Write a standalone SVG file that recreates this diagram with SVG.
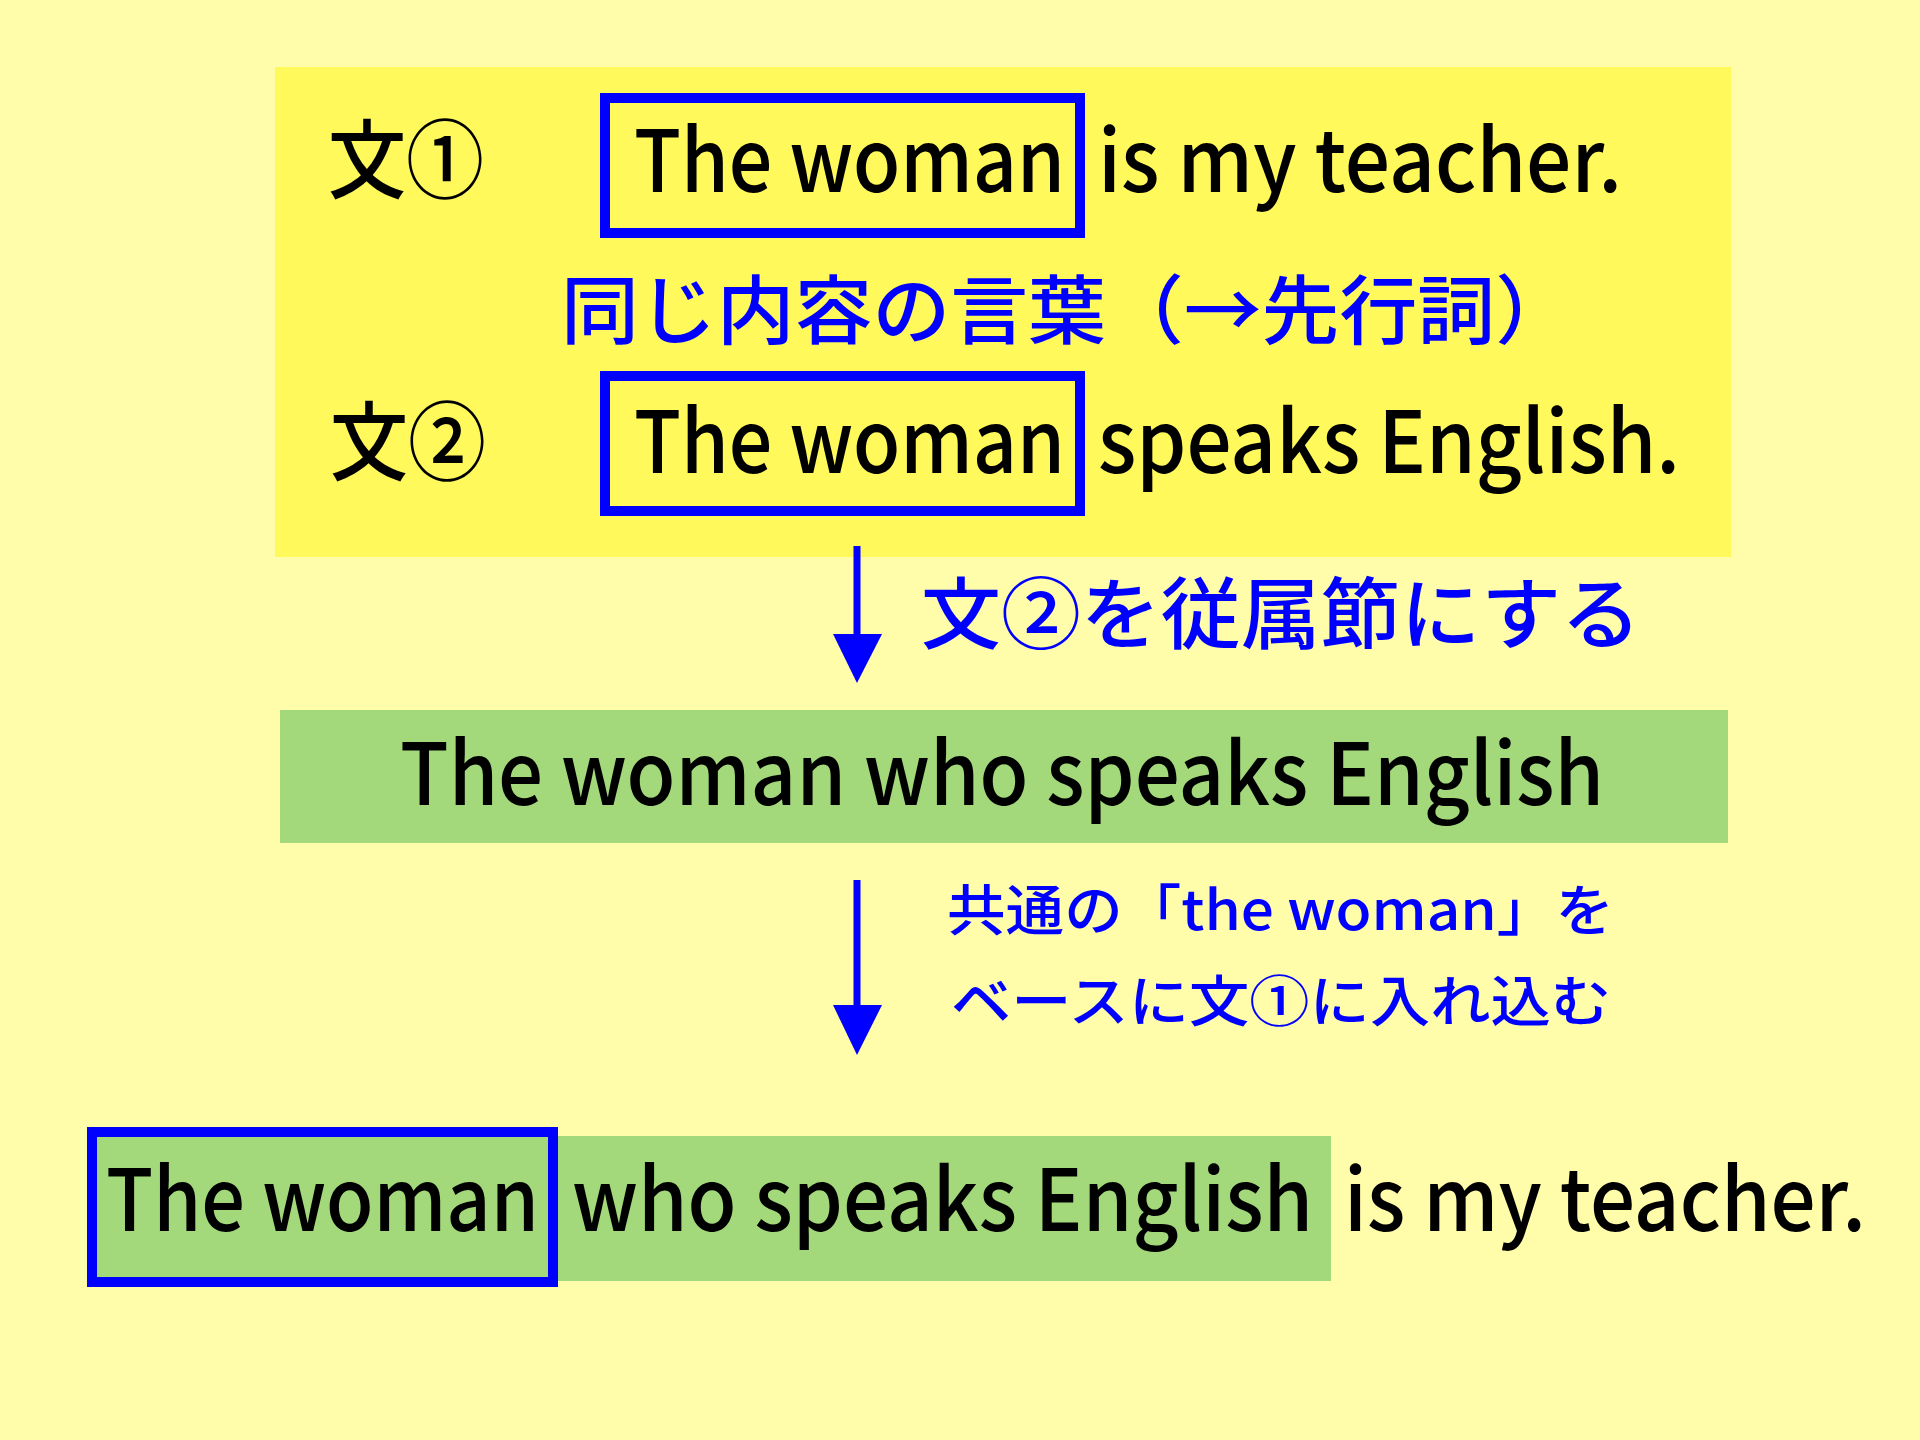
<svg xmlns="http://www.w3.org/2000/svg" width="1920" height="1440" viewBox="0 0 1920 1440">
<defs>
<style>
.t{font-family:"Noto Sans CJK JP","Liberation Sans",sans-serif;fill:#000;font-size:86px;font-weight:500}
.b{font-family:"Noto Sans CJK JP","Liberation Sans",sans-serif;fill:#0000FF;font-weight:500}
.box{fill:none;stroke:#0000FF;stroke-width:10}
.boxg{fill:#A3D97B;stroke:#0000FF;stroke-width:10}
.conn{stroke:#0000FF;stroke-width:7;fill:none}
.head{fill:#0000FF}
</style>
</defs>
<rect x="0" y="0" width="1920" height="1440" fill="#FFFCAA"/>

<g id="sentences">
<rect x="275" y="67" width="1456" height="490" fill="#FFF95B"/>
<rect class="box" x="605" y="98" width="475" height="135"/>
<rect class="box" x="605" y="376" width="475" height="135"/>
<text class="t" x="328" y="192" textLength="156" lengthAdjust="spacingAndGlyphs">文①</text>
<text class="t" x="634" y="192" textLength="431" lengthAdjust="spacingAndGlyphs">The woman</text>
<text class="t" x="1098" y="192" textLength="524" lengthAdjust="spacingAndGlyphs">is my teacher.</text>
<text class="b" x="561" y="338" font-size="75" textLength="1012" lengthAdjust="spacingAndGlyphs">同じ内容の言葉（→先行詞）</text>
<text class="t" x="330" y="474" textLength="156" lengthAdjust="spacingAndGlyphs">文②</text>
<text class="t" x="634" y="473" textLength="431" lengthAdjust="spacingAndGlyphs">The woman</text>
<text class="t" x="1098" y="473" textLength="582" lengthAdjust="spacingAndGlyphs">speaks English.</text>
</g>

<g id="clause">
<rect x="280" y="710" width="1448" height="133" fill="#A3D97B"/>
<text class="t" x="400" y="805" textLength="1204" lengthAdjust="spacingAndGlyphs">The woman who speaks English</text>
</g>

<g id="result">
<rect x="557" y="1136" width="774" height="145" fill="#A3D97B"/>
<rect class="boxg" x="92" y="1132" width="461" height="150"/>
<text class="t" x="106" y="1231" textLength="433" lengthAdjust="spacingAndGlyphs">The woman</text>
<text class="t" x="572" y="1231" textLength="741" lengthAdjust="spacingAndGlyphs">who speaks English</text>
<text class="t" x="1344" y="1231" textLength="522" lengthAdjust="spacingAndGlyphs">is my teacher.</text>
</g>

<g id="connectors">
<line class="conn" x1="857" y1="546" x2="857" y2="640"/>
<path class="head" d="M833,634 L882,634 L857,683 Z"/>
<text class="b" x="921" y="643" font-size="78" textLength="720" lengthAdjust="spacingAndGlyphs">文②を従属節にする</text>
<line class="conn" x1="857" y1="880" x2="857" y2="1010"/>
<path class="head" d="M833,1005 L882,1005 L857,1055 Z"/>
<text class="b" x="947" y="930" font-size="55" textLength="667" lengthAdjust="spacingAndGlyphs">共通の「the woman」を</text>
<text class="b" x="951" y="1021" font-size="55" textLength="660" lengthAdjust="spacingAndGlyphs">ベースに文①に入れ込む</text>
</g>
</svg>
